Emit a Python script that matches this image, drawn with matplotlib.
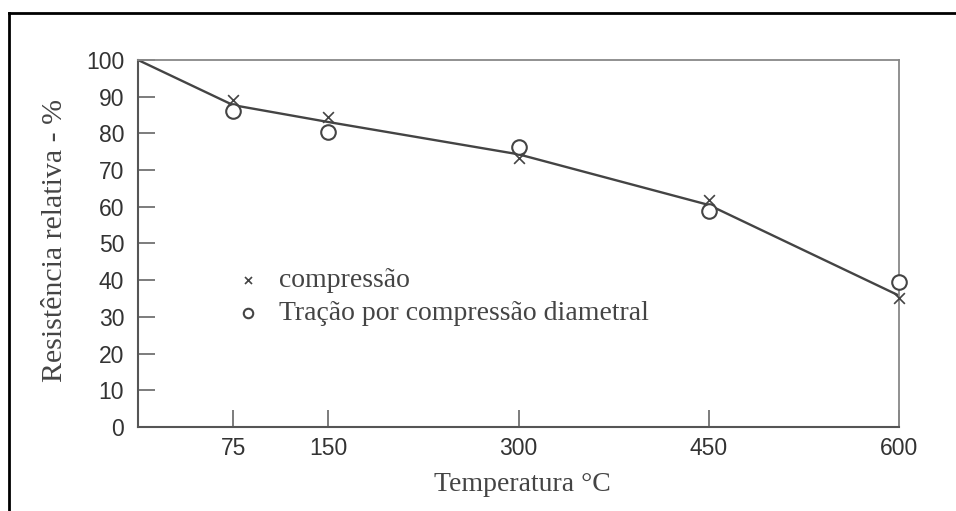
import matplotlib.pyplot as plt
from matplotlib.lines import Line2D

# data
temps = [0, 75, 150, 300, 450, 600]
curve = [100, 87.7, 83.1, 74.3, 60.5, 35.8]

pts_temp = [75, 150, 300, 450, 600]
compressao = [89.0, 84.5, 73.3, 61.9, 35.1]
tracao = [86.0, 80.4, 76.3, 58.9, 39.5]

x_ticks = [75, 150, 300, 450, 600]
y_ticks = list(range(0, 101, 10))

serif = ['Liberation Serif', 'DejaVu Serif']
sans = ['Liberation Sans', 'DejaVu Sans']

fig = plt.figure(figsize=(9.56, 5.11), dpi=100)
ax = fig.add_axes([0.1444, 0.1644, 0.7960, 0.7182])

ax.plot(temps, curve, color='#444444', lw=1.7, zorder=2)
ax.scatter(pts_temp, compressao, marker='x', s=60, color='#444444',
           linewidths=1.2, label='compressão', zorder=3, clip_on=False)
ax.scatter(pts_temp, tracao, marker='o', s=110, facecolors='white',
           edgecolors='#444444', linewidths=1.5,
           label='Tração por compressão diametral', zorder=3, clip_on=False)

ax.set_xlim(0, 600)
ax.set_ylim(0, 100)
ax.set_xticks(x_ticks)
ax.set_yticks(y_ticks)

for lbl in ax.get_xticklabels() + ax.get_yticklabels():
    lbl.set_family(sans)
    lbl.set_fontsize(16.5)
    lbl.set_color('#333333')

ax.tick_params(direction='in', length=12, width=1.2, color='#666666')
ax.tick_params(axis='y', pad=10)
ax.tick_params(axis='x', pad=7)

for side in ['left', 'bottom']:
    ax.spines[side].set_color('#555555')
    ax.spines[side].set_linewidth(1.5)
for side in ['top', 'right']:
    ax.spines[side].set_color('#888888')
    ax.spines[side].set_linewidth(1.3)

fig.text(0.0575, 0.530, 'Resistência relativa - %', rotation=90,
         ha='center', va='center', family=serif, fontsize=21.5, color='#444444')
fig.text(0.546, 0.051, 'Temperatura °C', ha='center', va='center',
         family=serif, fontsize=20, color='#444444')

leg = ax.legend(loc='upper left', bbox_to_anchor=(0.2187, 0.5256),
                bbox_transform=fig.transFigure, frameon=False,
                markerscale=0.65, handlelength=1.0, handletextpad=0.62,
                labelspacing=0.28, prop={'family': serif, 'size': 20})
for t in leg.get_texts():
    t.set_color('#444444')

# outer frame (left and top edges only)
fig.add_artist(Line2D([9 / 956, 9 / 956], [0, 1 - 13 / 511],
                      transform=fig.transFigure, color='black', lw=2))
fig.add_artist(Line2D([9 / 956, 1], [1 - 13 / 511, 1 - 13 / 511],
                      transform=fig.transFigure, color='black', lw=2))

fig.savefig('out.png', dpi=100)
